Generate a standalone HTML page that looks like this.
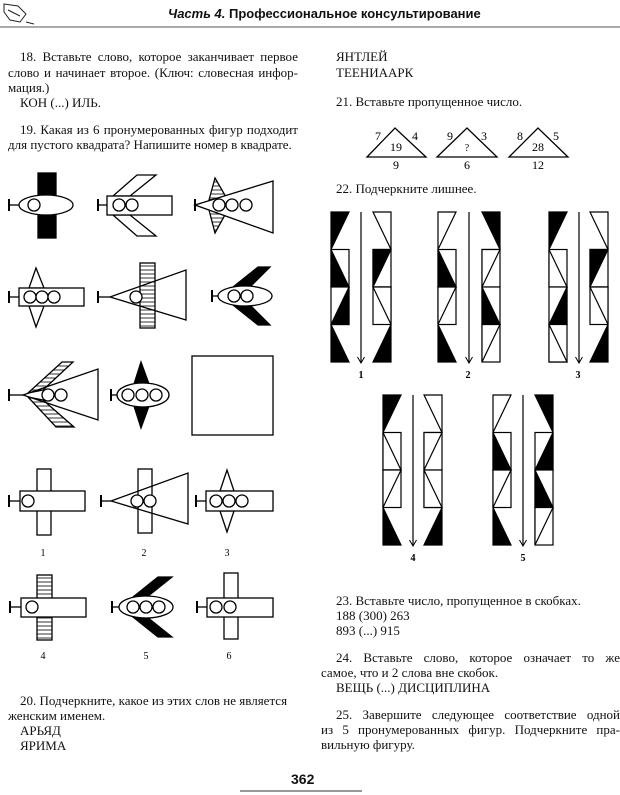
<!DOCTYPE html>
<html><head><meta charset="utf-8">
<style>
html,body{margin:0;padding:0;background:#fff;}
body{width:620px;height:795px;position:relative;overflow:hidden;font-family:"Liberation Serif",serif;font-size:13px;color:#111;}
.l{position:absolute;white-space:nowrap;line-height:15px;}
.j{text-align:justify;text-align-last:justify;white-space:normal;}
.hdr{position:absolute;top:6px;left:168px;font-family:"Liberation Sans",sans-serif;font-weight:bold;font-size:13px;}
svg{position:absolute;left:0;top:0;}
</style></head><body>
<div class="hdr"><i>Часть 4.</i> Профессиональное консультирование</div>

<div class="l j" style="left:20px;top:49px;width:278px">18. Вставьте слово, которое заканчивает первое</div>
<div class="l j" style="left:8px;top:65px;width:290px">слово и начинает второе. (Ключ: словесная инфор-</div>
<div class="l" style="left:8px;top:80px">мация.)</div>
<div class="l" style="left:20px;top:95px">КОН (...) ИЛЬ.</div>
<div class="l j" style="left:20px;top:122px;width:278px">19. Какая из 6 пронумерованных фигур подходит</div>
<div class="l" style="left:8px;top:137px">для пустого квадрата? Напишите номер в квадрате.</div>

<div class="l" style="left:20px;top:693px">20. Подчеркните, какое из этих слов не является</div>
<div class="l" style="left:8px;top:708px">женским именем.</div>
<div class="l" style="left:20px;top:723px">АРЬЯД</div>
<div class="l" style="left:20px;top:738px">ЯРИМА</div>

<div class="l" style="left:336px;top:49px">ЯНТЛЕЙ</div>
<div class="l" style="left:336px;top:65px">ТЕЕНИААРК</div>
<div class="l" style="left:336px;top:94px">21. Вставьте пропущенное число.</div>
<div class="l" style="left:336px;top:181px">22. Подчеркните лишнее.</div>

<div class="l" style="left:336px;top:593px">23. Вставьте число, пропущенное в скобках.</div>
<div class="l" style="left:336px;top:608px">188 (300) 263</div>
<div class="l" style="left:336px;top:623px">893 (...) 915</div>
<div class="l j" style="left:336px;top:650px;width:284px">24. Вставьте слово, которое означает то же</div>
<div class="l" style="left:321px;top:665px">самое, что и 2 слова вне скобок.</div>
<div class="l" style="left:336px;top:680px">ВЕЩЬ (...) ДИСЦИПЛИНА</div>
<div class="l j" style="left:336px;top:707px;width:284px">25. Завершите следующее соответствие одной</div>
<div class="l j" style="left:321px;top:722px;width:299px">из 5 пронумерованных фигур. Подчеркните пра-</div>
<div class="l" style="left:321px;top:737px">вильную фигуру.</div>

<div class="l" style="left:291px;top:772px;font-family:'Liberation Sans',sans-serif;font-weight:bold;font-size:14px">362</div>

<svg width="620" height="795" viewBox="0 0 620 795" id="s">
<defs>
<pattern id="h" width="4" height="4" patternUnits="userSpaceOnUse"><rect width="4" height="4" fill="#fff"/><line x1="0" y1="2" x2="4" y2="2" stroke="#000" stroke-width="0.8"/></pattern>
<marker id="ar" markerWidth="8" markerHeight="8" refX="4" refY="7" orient="0" markerUnits="userSpaceOnUse"><path d="M0.5,1 L4,7 L7.5,1" fill="none" stroke="#000" stroke-width="1"/></marker>
</defs>
<line x1="0" y1="27" x2="620" y2="27" stroke="#555" stroke-width="1"/>
<line x1="240" y1="791" x2="362" y2="791" stroke="#333" stroke-width="1"/>
<path d="M4,4 L18,6 L26,14 L20,22 L10,20 L4,12Z M8,10 L20,16 M26,22 L34,24" fill="none" stroke="#222" stroke-width="1"/>

<g stroke="#000" stroke-width="1.3" fill="#fff">
<rect x="38" y="173" width="18" height="65" fill="#000"/>
<line x1="9" y1="205" x2="19" y2="205"/><line x1="9" y1="199" x2="9" y2="211" stroke-width="2"/>
<ellipse cx="46" cy="205" rx="27" ry="10"/>
<circle cx="34" cy="205" r="6"/>
<polygon points="113,196 137,175 156,175 130,196"/>
<polygon points="113,215 137,236 156,236 130,215"/>
<line x1="98" y1="205" x2="107" y2="205"/><line x1="98" y1="199" x2="98" y2="211" stroke-width="2"/>
<rect x="107" y="196" width="65" height="19"/>
<circle cx="119" cy="205" r="6"/><circle cx="132" cy="205" r="6"/>
<polygon points="215,178 226,197 209,200" fill="url(#h)"/>
<polygon points="215,233 226,213 209,210" fill="url(#h)"/>
<line x1="195" y1="199" x2="195" y2="211" stroke-width="2"/>
<polygon points="195,205 273,181 273,233"/>
<circle cx="219" cy="205" r="6"/><circle cx="232" cy="205" r="6"/><circle cx="246" cy="205" r="6"/>
<polygon points="36,268 29,288 44,288"/><polygon points="36,327 29,306 44,306"/>
<line x1="9" y1="297" x2="19" y2="297"/><line x1="9" y1="291" x2="9" y2="303" stroke-width="2"/>
<rect x="19" y="288" width="65" height="18"/>
<circle cx="30" cy="297" r="6"/><circle cx="42" cy="297" r="6"/><circle cx="54" cy="297" r="6"/>
<rect x="140" y="263" width="15" height="65" fill="url(#h)"/>
<line x1="98" y1="297" x2="110" y2="297"/><line x1="98" y1="291" x2="98" y2="303" stroke-width="2"/>
<polygon points="110,297 186,270 186,320" fill="none"/>
<circle cx="136" cy="297" r="6"/>
<polygon points="233,287 258,267 270,267 250,287" fill="#000"/>
<polygon points="233,305 258,325 270,325 250,305" fill="#000"/>
<line x1="212" y1="296" x2="218" y2="296"/><line x1="212" y1="290" x2="212" y2="302" stroke-width="2"/>
<ellipse cx="245" cy="296" rx="27" ry="10"/>
<circle cx="234" cy="296" r="6"/><circle cx="247" cy="296" r="6"/>
<polygon points="28,393 62,362 73,362 43,390" fill="url(#h)"/>
<polygon points="28,397 56,427 74,427 43,400" fill="url(#h)"/>
<line x1="9" y1="395" x2="23" y2="395"/><line x1="9" y1="389" x2="9" y2="401" stroke-width="2"/>
<polygon points="23,395 98,369 98,420" fill="none"/>
<circle cx="48" cy="395" r="6"/><circle cx="61" cy="395" r="6"/>
<polygon points="141,362 134,384 149,384" fill="#000"/><polygon points="141,428 134,406 149,406" fill="#000"/>
<line x1="111" y1="395" x2="118" y2="395"/><line x1="111" y1="389" x2="111" y2="401" stroke-width="2"/>
<ellipse cx="143" cy="395" rx="26" ry="12"/>
<circle cx="128" cy="395" r="6"/><circle cx="142" cy="395" r="6"/><circle cx="156" cy="395" r="6"/>
<rect x="192" y="356" width="81" height="79"/>
<rect x="37" y="469" width="14" height="66"/>
<line x1="9" y1="501" x2="20" y2="501"/><line x1="9" y1="495" x2="9" y2="507" stroke-width="2"/>
<rect x="20" y="491" width="65" height="20"/>
<circle cx="28" cy="501" r="6"/>
<rect x="138" y="469" width="14" height="64"/>
<line x1="101" y1="501" x2="111" y2="501"/><line x1="101" y1="495" x2="101" y2="507" stroke-width="2"/>
<polygon points="111,501 188,473 188,524" fill="none"/>
<circle cx="137" cy="501" r="6"/><circle cx="150" cy="501" r="6"/>
<polygon points="227,470 220,491 234,491"/><polygon points="227,532 220,511 234,511"/>
<line x1="196" y1="501" x2="206" y2="501"/><line x1="196" y1="495" x2="196" y2="507" stroke-width="2"/>
<rect x="206" y="491" width="67" height="20"/>
<circle cx="216" cy="501" r="6"/><circle cx="229" cy="501" r="6"/><circle cx="242" cy="501" r="6"/>
<rect x="37" y="575" width="15" height="65" fill="url(#h)"/>
<line x1="10" y1="607" x2="21" y2="607"/><line x1="10" y1="601" x2="10" y2="613" stroke-width="2"/>
<rect x="21" y="598" width="65" height="19"/>
<circle cx="32" cy="607" r="6"/>
<polygon points="133,597 158,577 172,577 147,597" fill="#000"/>
<polygon points="133,617 158,637 172,637 147,617" fill="#000"/>
<line x1="112" y1="607" x2="119" y2="607"/><line x1="112" y1="601" x2="112" y2="613" stroke-width="2"/>
<ellipse cx="146" cy="607" rx="27" ry="11"/>
<circle cx="133" cy="607" r="6"/><circle cx="146" cy="607" r="6"/><circle cx="159" cy="607" r="6"/>
<rect x="224" y="573" width="14" height="66"/>
<line x1="197" y1="607" x2="207" y2="607"/><line x1="197" y1="601" x2="197" y2="613" stroke-width="2"/>
<rect x="207" y="598" width="66" height="19"/>
<circle cx="216" cy="607" r="6"/><circle cx="230" cy="607" r="6"/>
</g>
<g font-family="Liberation Serif" font-size="10" text-anchor="middle">
<text x="43" y="556">1</text><text x="144" y="556">2</text><text x="227" y="556">3</text>
<text x="43" y="659">4</text><text x="146" y="659">5</text><text x="229" y="659">6</text>
</g>

<g stroke="#000" stroke-width="1.3" fill="none">
<polygon points="367,157 426,157 395,128"/>
<polygon points="437,157 497,157 467,128"/>
<polygon points="509,157 568,157 538,128"/>
</g>
<g font-family="Liberation Serif" font-size="12" text-anchor="middle">
<text x="378" y="140">7</text><text x="415" y="140">4</text><text x="396" y="151">19</text><text x="396" y="169">9</text>
<text x="450" y="140">9</text><text x="484" y="140">3</text><text x="467" y="151" font-size="10">?</text><text x="467" y="169">6</text>
<text x="520" y="140">8</text><text x="556" y="140">5</text><text x="538" y="151">28</text><text x="538" y="169">12</text>
</g>
<g id="strips" stroke="#000" stroke-width="1.2"></g>
<g font-family="Liberation Serif" font-size="10" font-weight="bold" text-anchor="middle">
<text x="361" y="378">1</text><text x="468" y="378">2</text><text x="578" y="378">3</text>
<text x="413" y="561">4</text><text x="523" y="561">5</text>
</g>
</svg>
<script>
(function(){
var g=document.getElementById('strips'),out='';
function tri(x,y,w,h,t){
 var L=x,R=x+w,T=y,Bm=y+h,p;
 var u=t.toUpperCase();
 if(u=='A')p=[L,T,R,T,L,Bm];else if(u=='B')p=[L,T,L,Bm,R,Bm];else if(u=='C')p=[R,T,R,Bm,L,Bm];else p=[L,T,R,T,R,Bm];
 var f=(t==u)?'#000':'#fff';
 return '<polygon points="'+p.join(',')+'" fill="'+f+'"/>';
}
function strip(x,y0,y1,cells,boxes){
 var h=(y1-y0)/4,w=18;
 for(var i=0;i<4;i++){
  var y=y0+i*h;
  if(boxes[i])out+='<rect x="'+x+'" y="'+y+'" width="'+w+'" height="'+h+'" fill="#fff"/>';
  out+=tri(x,y,w,h,cells[i]);
 }
}
function fig(lx,ax,rx,y0,y1,lc,lb,rc,rb){
 strip(lx,y0,y1,lc,lb);strip(rx,y0,y1,rc,rb);
 out+='<line x1="'+ax+'" y1="'+y0+'" x2="'+ax+'" y2="'+(y1+1)+'" marker-end="url(#ar)"/>';
}
var mid=[0,1,1,0],all=[0,1,1,1];
fig(331,361,373,212,362,['A','B','C','B'],mid,['d','A','d','C'],mid);
fig(438,469,482,212,362,['a','B','a','B'],mid,['D','a','B','a'],[0,1,1,1]);
fig(549,579,590,212,362,['A','b','C','b'],[0,1,1,1],['d','A','d','C'],mid);
fig(383,413,424,395,545,['A','b','a','B'],mid,['d','a','b','C'],mid);
fig(493,523,535,395,545,['a','B','a','B'],mid,['D','C','B','a'],all);
g.innerHTML=out;
})();
</script>
</body></html>
